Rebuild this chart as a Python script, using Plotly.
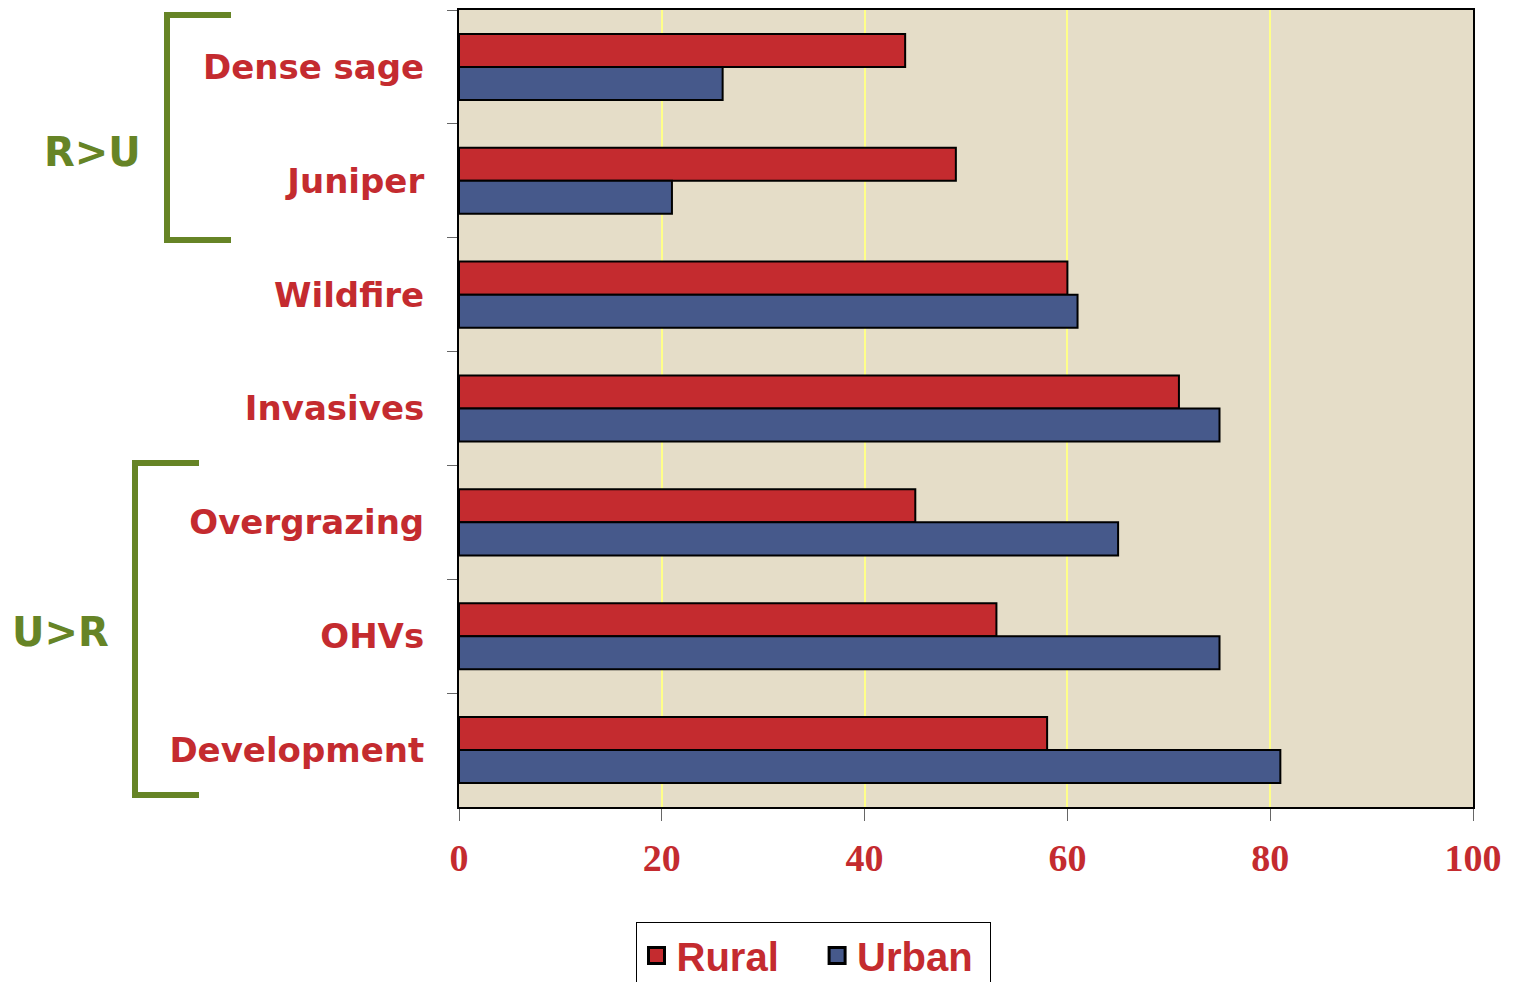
import plotly.graph_objects as go

categories = ["Dense sage", "Juniper", "Wildfire", "Invasives", "Overgrazing", "OHVs", "Development"]
rural = [44, 49, 60, 71, 45, 53, 58]
urban = [26, 21, 61, 75, 65, 75, 81]
x_ticks = [0, 20, 40, 60, 80, 100]
legend_names = ["Rural", "Urban"]

RED = "#c42b2f"
BLUE = "#46598b"
GREEN = "#668426"
NB = "\u00a0"

fig = go.Figure()
fig.add_trace(go.Bar(y=categories, x=rural, name="Rural", orientation="h", showlegend=False,
                     marker=dict(color=RED, line=dict(color="black", width=2))))
fig.add_trace(go.Bar(y=categories, x=urban, name="Urban", orientation="h", showlegend=False,
                     marker=dict(color=BLUE, line=dict(color="black", width=2))))
# legend-only entries with larger square swatches
for nm, col, pad in ((legend_names[0], RED, NB * 3), (legend_names[1], BLUE, NB)):
    fig.add_trace(go.Scatter(x=[None], y=[None], mode="markers", name=nm + pad,
                             marker=dict(symbol="square", size=20, color=col,
                                         line=dict(color="black", width=3))))

# page offset (browser body margin)
OFF = 8
W, H = 1516, 982
PL, PR, PT, PB = 459, 1473, 10, 807  # plot area in page pixels
pw, ph = PR - PL, PB - PT

def px(xp):
    return (xp - PL) / pw

def py(yp):
    return (PB - yp) / ph

shapes = []
def bracket(xv, xh, ytop, ybot):
    path = f"M {px(xh)},{py(ytop)} L {px(xv)},{py(ytop)} L {px(xv)},{py(ybot)} L {px(xh)},{py(ybot)}"
    shapes.append(dict(type="path", path=path, xref="paper", yref="paper",
                       line=dict(color=GREEN, width=6)))

bracket(167, 231, 15, 240)
bracket(135, 199, 463, 795)

fig.update_layout(
    width=W - OFF, height=H - OFF,
    margin=dict(l=PL - OFF, r=W - PR, t=PT - OFF, b=H - PB, autoexpand=False),
    paper_bgcolor="white",
    plot_bgcolor="#e5ddc8",
    barmode="group",
    bargap=0.42,
    bargroupgap=0,
    shapes=shapes,
    showlegend=True,
    legend=dict(orientation="h", x=px(813), y=py(922), xanchor="center", yanchor="top",
                bgcolor="white", bordercolor="black", borderwidth=1,
                font=dict(family="Liberation Sans", size=40, color=RED, weight="bold"),
                itemsizing="trace", traceorder="normal", itemwidth=30),
    annotations=[
        dict(text="R>U", x=px(92), y=py(152), xref="paper", yref="paper", showarrow=False,
             xanchor="center", yanchor="middle",
             font=dict(family="DejaVu Sans", size=40, color=GREEN, weight="bold")),
        dict(text="U>R", x=px(60), y=py(632), xref="paper", yref="paper", showarrow=False,
             xanchor="center", yanchor="middle",
             font=dict(family="DejaVu Sans", size=40, color=GREEN, weight="bold")),
    ],
)

fig.update_xaxes(range=[0, 100], tickvals=x_ticks, ticktext=[str(v) for v in x_ticks],
                 showgrid=True, gridcolor="#ffff88", gridwidth=2, zeroline=False,
                 showline=True, linecolor="black", linewidth=2, mirror=True,
                 ticks="outside", ticklen=12, tickcolor="#666666", tickwidth=1,
                 ticklabelstandoff=4,
                 tickfont=dict(family="Liberation Serif", size=38, color=RED, weight="bold"))
fig.update_yaxes(autorange="reversed", categoryorder="array", categoryarray=categories,
                 showline=True, linecolor="black", linewidth=2, mirror=True,
                 ticks="outside", ticklen=10, tickcolor="#666666", tickwidth=1,
                 tickson="boundaries", showgrid=False, ticklabelstandoff=26,
                 tickfont=dict(family="DejaVu Sans", size=34, color=RED, weight="bold"))

fig.write_html("out.html")
